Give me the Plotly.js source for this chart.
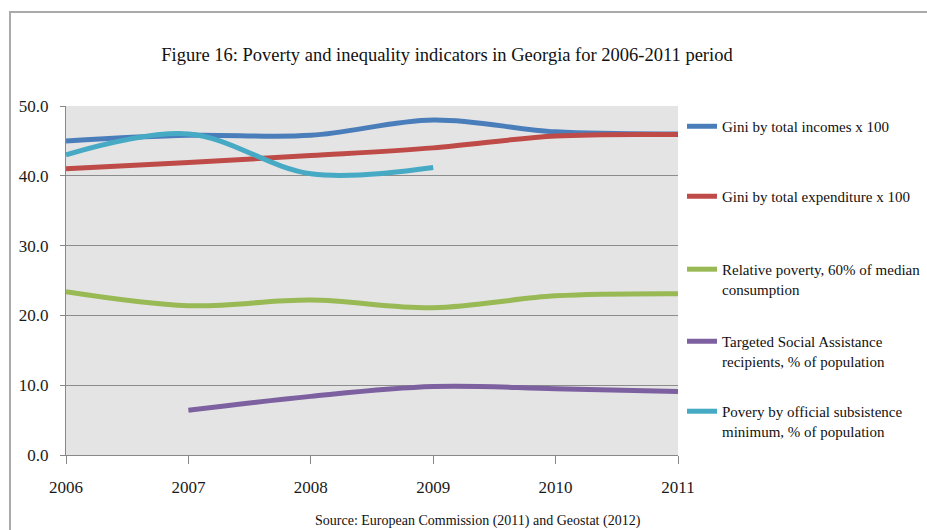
<!DOCTYPE html>
<html>
<head>
<meta charset="utf-8">
<script src="https://cdn.plot.ly/plotly-3.0.1.min.js"></script>
<style>html,body{margin:0;padding:0;background:#fff;}#chart{width:927px;height:530px;}</style>
</head>
<body>
<div id="chart"></div>
<script>
const years = [2006, 2007, 2008, 2009, 2010, 2011];
const giniIncome = [45.0, 45.8, 45.8, 48.0, 46.3, 46.0];
const giniExpenditure = [41.0, 41.9, 42.9, 44.0, 45.7, 45.9];
const relativePoverty = [23.4, 21.4, 22.2, 21.1, 22.8, 23.1];
const tsaYears = [2007, 2008, 2009, 2010, 2011];
const tsaRecipients = [6.4, 8.4, 9.8, 9.5, 9.1];
const subsYears = [2006, 2007, 2008, 2009];
const subsistencePoverty = [43.0, 46.0, 40.3, 41.2];
const yTicks = [0, 10, 20, 30, 40, 50];
const yTickText = ["0.0", "10.0", "20.0", "30.0", "40.0", "50.0"];
const seriesNames = [
  "Gini by total incomes x 100",
  "Gini by total expenditure x 100",
  "Relative poverty, 60% of median<br>consumption",
  "Targeted Social Assistance<br>recipients, % of population",
  "Povery by official subsistence<br>minimum, % of population"
];

const FONT = "'Liberation Serif', 'DejaVu Serif', serif";
const colors = ["#4a7ebb", "#be4b48", "#98b954", "#7d60a0", "#46aac5"];
const xs = [years, years, years, tsaYears, subsYears];
const ys = [giniIncome, giniExpenditure, relativePoverty, tsaRecipients, subsistencePoverty];
const legendIds = ["legend", "legend2", "legend3", "legend4", "legend5"];
// legend box tops (paper y) for each entry
const legendY = [0.9885, 0.788, 0.579, 0.3725, 0.172];

const traces = ys.map((y, i) => ({
  type: "scatter",
  mode: "lines",
  x: xs[i],
  y: y,
  name: seriesNames[i],
  legend: legendIds[i],
  line: {color: colors[i], width: 5, shape: "spline", smoothing: 1},
  hoverinfo: "x+y+name"
}));

const layout = {
  width: 927,
  height: 530,
  paper_bgcolor: "#ffffff",
  plot_bgcolor: "#e4e4e4",
  margin: {l: 66, r: 249, t: 106, b: 75, autoexpand: false},
  font: {family: FONT, size: 17, color: "#1a1a1a"},
  title: {
    text: "Figure 16: Poverty and inequality indicators in Georgia for 2006-2011 period",
    font: {family: FONT, size: 18.5, color: "#111"},
    x: 447 / 927, xanchor: "center", y: 1 - 55 / 530, yanchor: "middle"
  },
  xaxis: {
    range: [2006, 2011],
    tickvals: years,
    ticktext: years.map(String),
    showgrid: false,
    zeroline: false,
    showline: true,
    linecolor: "#888",
    linewidth: 1,
    ticks: "outside",
    ticklen: 8,
    tickcolor: "#888",
    ticklabelstandoff: 9,
    tickfont: {family: FONT, size: 17, color: "#1a1a1a"},
    fixedrange: true
  },
  yaxis: {
    range: [0, 50],
    tickvals: yTicks,
    ticktext: yTickText,
    showgrid: true,
    gridcolor: "#8c8c8c",
    gridwidth: 1,
    zeroline: false,
    showline: true,
    linecolor: "#888",
    linewidth: 1,
    ticks: "outside",
    ticklen: 5,
    tickcolor: "#888",
    ticklabelstandoff: 8,
    tickfont: {family: FONT, size: 17, color: "#1a1a1a"},
    fixedrange: true
  },
  showlegend: true,
  annotations: [{
    text: "Source: European Commission (2011) and Geostat (2012)",
    xref: "paper", yref: "paper",
    x: (478 - 66) / 612, y: -0.19,
    xanchor: "center", yanchor: "middle",
    showarrow: false,
    font: {family: FONT, size: 14, color: "#111"}
  }],
  shapes: [{
    type: "rect", xref: "paper", yref: "paper",
    x0: -56 / 612, x1: 1.5, y0: -0.5, y1: 1 + 94 / 349,
    line: {color: "#aaaaaa", width: 2}
  }]
};

legendIds.forEach((id, i) => {
  layout[id] = {
    x: (682 - 66) / 612, xanchor: "left",
    y: legendY[i], yanchor: "top",
    valign: "top",
    font: {family: FONT, size: 15, color: "#111"},
    bgcolor: "rgba(0,0,0,0)",
    itemwidth: 30
  };
});

Plotly.newPlot("chart", traces, layout, {displayModeBar: false, staticPlot: true});
</script>
</body>
</html>
